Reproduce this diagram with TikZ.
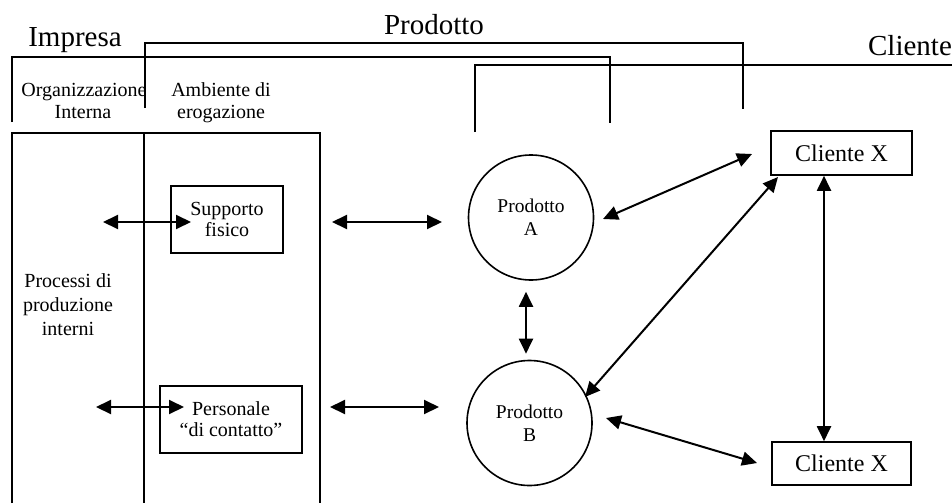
\documentclass[tikz,border=0pt]{standalone}
\usepackage{fontspec}
\setmainfont{Liberation Serif}
\usetikzlibrary{arrows.meta}
\begin{document}
\begin{tikzpicture}[x=1pt,y=-1pt,
  frame/.style={line width=1.6pt},
  bigtitle/.style={font=\fontsize{29}{32}\selectfont, anchor=base, inner sep=0pt},
  colhead/.style={font=\fontsize{20}{22}\selectfont, align=center, inner sep=0pt},
  boxnode/.style={draw, line width=1.6pt, rectangle, inner sep=0pt,
    font=\fontsize{20}{21}\selectfont, align=center},
  prodnode/.style={draw, line width=1.6pt, circle, inner sep=0pt,
    minimum size=125pt, font=\fontsize{19.5}{23}\selectfont, align=center},
  clientnode/.style={draw, line width=1.6pt, rectangle, inner sep=0pt,
    font=\fontsize{24}{26}\selectfont},
  link/.style={line width=2pt, {Triangle[length=15pt,width=14pt]}-{Triangle[length=15pt,width=14pt]}}
]
\useasboundingbox (0,0) rectangle (952,503);

% section titles
\node[bigtitle] (impresa) at (75,46) {Impresa};
\node[bigtitle] (prodotto) at (434,35) {Prodotto};
\node[bigtitle] (cliente) at (910,56) {Cliente};

% brackets spanning each section
\draw[frame] (12,122) -- (12,57) -- (610,57) -- (610,123);
\draw[frame] (145,108) -- (145,43) -- (743,43) -- (743,109);
\draw[frame] (475,132) -- (475,65) -- (952,65);

% column headings
\node[colhead, anchor=base] (org) at (84,96) {Organizzazione};
\node[colhead, anchor=base] (int) at (83,118) {Interna};
\node[colhead, anchor=base] (amb) at (221,96) {Ambiente di};
\node[colhead, anchor=base] (ero) at (221,118) {erogazione};

% company columns
\draw[frame] (12,503) -- (12,133) -- (320,133) -- (320,503);
\draw[frame] (144,133) -- (144,503);

\node[colhead, font=\fontsize{20}{24}\selectfont] (proc) at (68,305) {Processi di\\produzione\\interni};

% support elements
\node[boxnode, minimum width=112pt, minimum height=67pt] (supp) at (227,219.5) {Supporto\\fisico};
\node[boxnode, minimum width=142pt, minimum height=67pt] (pers) at (231,419.5) {Personale\\``di contatto''};

% products
\node[prodnode] (pa) at (531,217.5) {Prodotto\\A};
\node[prodnode] (pb) at (529.5,423) {Prodotto\\B};

% clients
\node[clientnode, minimum width=141pt, minimum height=44pt] (cx1) at (841.5,153) {Cliente X};
\node[clientnode, minimum width=139pt, minimum height=43pt] (cx2) at (841.5,463.5) {Cliente X};

% connector end points
\coordinate (s1a) at (103,222);  \coordinate (s1b) at (191,222);
\coordinate (s2a) at (332,222);  \coordinate (s2b) at (442,222);
\coordinate (p1a) at (96,407);   \coordinate (p1b) at (184,407);
\coordinate (p2a) at (330,407);  \coordinate (p2b) at (439,407);
\coordinate (ac1) at (603,219);  \coordinate (ca1) at (752,154);
\coordinate (bc1) at (585,397);  \coordinate (cb1) at (778,177);
\coordinate (bc2) at (606,418);  \coordinate (cb2) at (757,463);

\draw[link] (s1a) -- (s1b);
\draw[link] (s2a) -- (s2b);
\draw[link] (p1a) -- (p1b);
\draw[link] (p2a) -- (p2b);
\draw[link] (ac1) -- (ca1);
\draw[link] (bc1) -- (cb1);
\draw[link] (bc2) -- (cb2);
\draw[link] ([yshift=-11pt]pa.south -| 526,0) -- ([yshift=6pt]pb.north -| 526,0);
\draw[link] (cx1.south -| 824,0) -- (cx2.north -| 824,0);
\end{tikzpicture}
\end{document}
